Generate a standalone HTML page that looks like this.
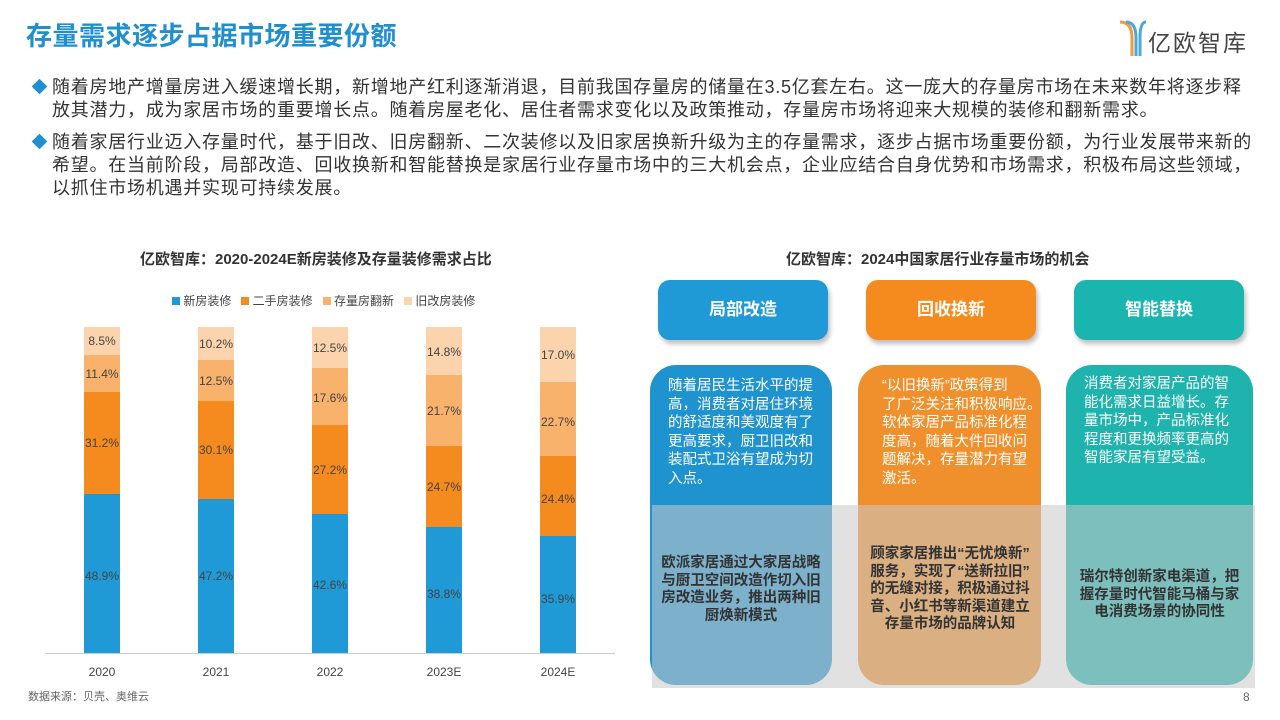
<!DOCTYPE html>
<html><head><meta charset="utf-8">
<style>
*{margin:0;padding:0;box-sizing:border-box}
body{width:1280px;height:720px;background:#fff;position:relative;overflow:hidden;font-family:"Liberation Sans","Noto Sans CJK SC",sans-serif;color:#333}
.abs{position:absolute}
.title{left:26px;top:16px;font-size:26px;font-weight:bold;color:#1f8fd0;letter-spacing:0.5px}
.para{left:52px;font-size:18px;line-height:23px;color:#333;white-space:nowrap;letter-spacing:0.75px}
.dia{width:11px;height:11px;background:#1f8fd0;transform:rotate(45deg)}
.ct{font-size:15px;font-weight:bold;color:#333}
.hdr{border-radius:12px;color:#fff;font-size:17px;font-weight:bold;text-align:center;line-height:60px;box-shadow:2px 4px 5px rgba(0,0,0,0.25)}
.card{border-radius:26px;color:#fff;font-size:14.5px;line-height:18.5px;white-space:nowrap}
.bot{font-size:14.5px;line-height:17.5px;color:#333;text-align:center;font-weight:bold;white-space:nowrap}
</style></head><body>
<div class="abs title">存量需求逐步占据市场重要份额</div>
<div class="abs" style="left:1118px;top:18px;width:14px;height:36px">
<svg width="30" height="40" viewBox="0 0 30 40"><path d="M2 4 Q14 4 14 20 L14 38" stroke="#f29b3c" stroke-width="3" fill="none"/><path d="M8 4 Q18 4 18 20 L18 38" stroke="#4aa8e0" stroke-width="3" fill="none"/><path d="M28 4 Q22 4 22 20 L22 38" stroke="#4aa8e0" stroke-width="3" fill="none"/></svg></div>
<div class="abs" style="left:1148px;top:24px;font-size:23px;color:#444;letter-spacing:2px">亿欧智库</div>

<div class="abs dia" style="left:34px;top:81px"></div>
<div class="abs para" style="top:76px">随着房地产增量房进入缓速增长期，新增地产红利逐渐消退，目前我国存量房的储量在3.5亿套左右。这一庞大的存量房市场在未来数年将逐步释</div>
<div class="abs para" style="top:99px">放其潜力，成为家居市场的重要增长点。随着房屋老化、居住者需求变化以及政策推动，存量房市场将迎来大规模的装修和翻新需求。</div>
<div class="abs dia" style="left:34px;top:136px"></div>
<div class="abs para" style="top:131px">随着家居行业迈入存量时代，基于旧改、旧房翻新、二次装修以及旧家居换新升级为主的存量需求，逐步占据市场重要份额，为行业发展带来新的</div>
<div class="abs para" style="top:154px">希望。在当前阶段，局部改造、回收换新和智能替换是家居行业存量市场中的三大机会点，企业应结合自身优势和市场需求，积极布局这些领域，</div>
<div class="abs para" style="top:177px">以抓住市场机遇并实现可持续发展。</div>

<div class="abs ct" style="left:140px;top:248px">亿欧智库：2020-2024E新房装修及存量装修需求占比</div>
<div class="abs" style="left:172px;top:292px;font-size:12px;color:#444;white-space:nowrap">
<span style="display:inline-block;width:8px;height:8px;background:#1f9ad6"></span> 新房装修&nbsp;&nbsp;
<span style="display:inline-block;width:8px;height:8px;background:#f58a1f"></span> 二手房装修&nbsp;&nbsp;
<span style="display:inline-block;width:8px;height:8px;background:#f8b26b"></span> 存量房翻新&nbsp;&nbsp;
<span style="display:inline-block;width:8px;height:8px;background:#fbd3ac"></span> 旧改房装修</div>

<svg class="abs" style="left:0;top:0" width="640" height="720">
<g font-family="Liberation Sans, sans-serif" font-size="12" fill="#444" text-anchor="middle">
<line x1="45" y1="653.5" x2="615" y2="653.5" stroke="#ccc"/>
<rect x="84" y="494" width="36" height="159" fill="#1f9ad6"/><rect x="84" y="392" width="36" height="102" fill="#f58a1f"/><rect x="84" y="355" width="36" height="37" fill="#f8b26b"/><rect x="84" y="327" width="36" height="28" fill="#fbd3ac"/>
<text x="102" y="580">48.9%</text><text x="102" y="447">31.2%</text><text x="102" y="378">11.4%</text><text x="102" y="345">8.5%</text><text x="102" y="676">2020</text>
<rect x="198" y="499" width="36" height="154" fill="#1f9ad6"/><rect x="198" y="401" width="36" height="98" fill="#f58a1f"/><rect x="198" y="360" width="36" height="41" fill="#f8b26b"/><rect x="198" y="327" width="36" height="33" fill="#fbd3ac"/>
<text x="216" y="580">47.2%</text><text x="216" y="454">30.1%</text><text x="216" y="385">12.5%</text><text x="216" y="348">10.2%</text><text x="216" y="676">2021</text>
<rect x="312" y="514" width="36" height="139" fill="#1f9ad6"/><rect x="312" y="425" width="36" height="89" fill="#f58a1f"/><rect x="312" y="368" width="36" height="57" fill="#f8b26b"/><rect x="312" y="327" width="36" height="41" fill="#fbd3ac"/>
<text x="330" y="589">42.6%</text><text x="330" y="474">27.2%</text><text x="330" y="402">17.6%</text><text x="330" y="352">12.5%</text><text x="330" y="676">2022</text>
<rect x="426" y="527" width="36" height="126" fill="#1f9ad6"/><rect x="426" y="446" width="36" height="81" fill="#f58a1f"/><rect x="426" y="375" width="36" height="71" fill="#f8b26b"/><rect x="426" y="327" width="36" height="48" fill="#fbd3ac"/>
<text x="444" y="598">38.8%</text><text x="444" y="491">24.7%</text><text x="444" y="415">21.7%</text><text x="444" y="356">14.8%</text><text x="444" y="676">2023E</text>
<rect x="540" y="536" width="36" height="117" fill="#1f9ad6"/><rect x="540" y="456" width="36" height="80" fill="#f58a1f"/><rect x="540" y="382" width="36" height="74" fill="#f8b26b"/><rect x="540" y="327" width="36" height="55" fill="#fbd3ac"/>
<text x="558" y="603">35.9%</text><text x="558" y="503">24.4%</text><text x="558" y="426">22.7%</text><text x="558" y="359">17.0%</text><text x="558" y="676">2024E</text>
</g></svg>
<div class="abs" style="left:28px;top:688px;font-size:11px;color:#666">数据来源：贝壳、奥维云</div>

<div class="abs ct" style="left:786px;top:248px">亿欧智库：2024中国家居行业存量市场的机会</div>
<div class="abs hdr" style="left:658px;top:280px;width:170px;height:60px;background:#1f9ad6">局部改造</div>
<div class="abs hdr" style="left:866px;top:280px;width:170px;height:60px;background:#f58a1f">回收换新</div>
<div class="abs hdr" style="left:1074px;top:280px;width:170px;height:60px;background:#1bb5b0">智能替换</div>

<div class="abs card" style="left:650px;top:365px;width:182px;height:320px;background:#1f93cf;padding:12px 0 0 18px">随着居民生活水平的提<br>高，消费者对居住环境<br>的舒适度和美观度有了<br>更高要求，厨卫旧改和<br>装配式卫浴有望成为切<br>入点。</div>
<div class="abs card" style="left:858px;top:365px;width:183px;height:320px;background:#f0902c;padding:12px 0 0 24px">“以旧换新”政策得到<br>了广泛关注和积极响应。<br>软体家居产品标准化程<br>度高，随着大件回收问<br>题解决，存量潜力有望<br>激活。</div>
<div class="abs card" style="left:1066px;top:365px;width:187px;height:320px;background:#1fb3ae;padding:10px 0 0 18px">消费者对家居产品的智<br>能化需求日益增长。存<br>量市场中，产品标准化<br>程度和更换频率更高的<br>智能家居有望受益。</div>
<div class="abs" style="left:652px;top:505px;width:603px;height:183px;background:rgba(200,200,200,0.55)"></div>
<div class="abs bot" style="left:651px;top:555px;width:180px">欧派家居通过大家居战略<br>与厨卫空间改造作切入旧<br>房改造业务，推出两种旧<br>厨焕新模式</div>
<div class="abs bot" style="left:859px;top:546px;width:182px">顾家家居推出“无忧焕新”<br>服务，实现了“送新拉旧”<br>的无缝对接，积极通过抖<br>音、小红书等新渠道建立<br>存量市场的品牌认知</div>
<div class="abs bot" style="left:1066px;top:569px;width:187px">瑞尔特创新家电渠道，把<br>握存量时代智能马桶与家<br>电消费场景的协同性</div>
<div class="abs" style="left:1243px;top:690px;font-size:12px;color:#666">8</div>
</body></html>
